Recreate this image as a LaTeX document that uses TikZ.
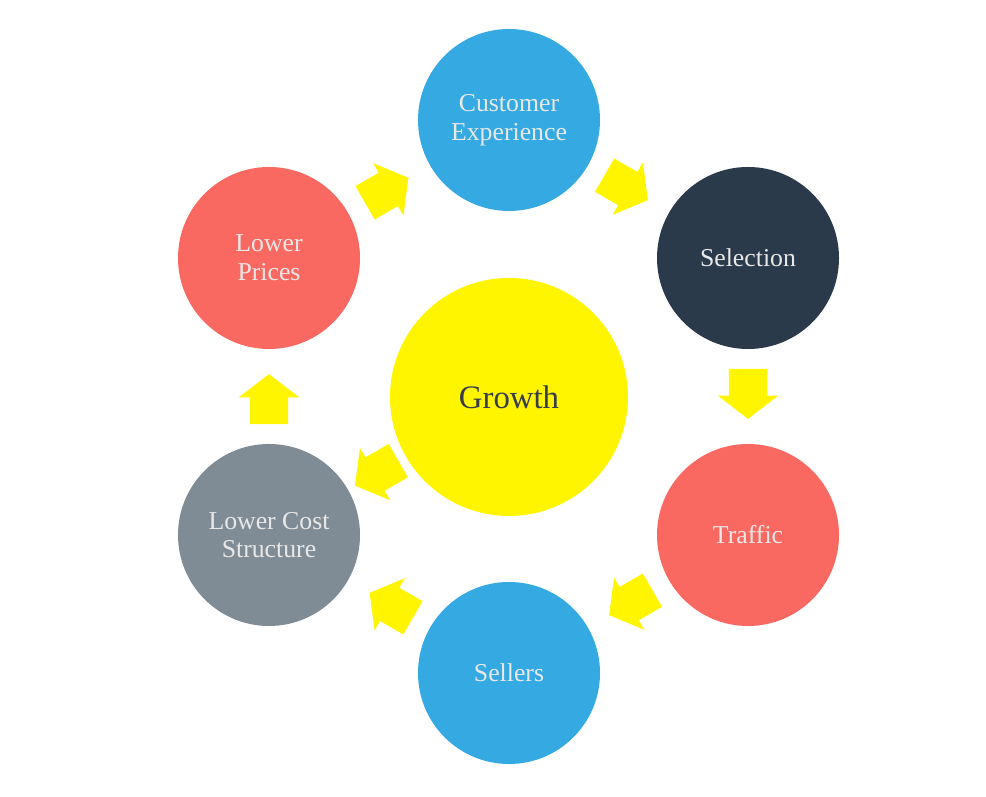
\documentclass[tikz,border=0pt]{standalone}
\usepackage{fontspec}
\setmainfont{Liberation Serif}
\usetikzlibrary{calc,shapes.arrows}
\definecolor{skyblue}{HTML}{35A9E1}
\definecolor{navy}{HTML}{2A3A4A}
\definecolor{salmon}{HTML}{FA6862}
\definecolor{slate}{HTML}{7F8C95}
\definecolor{sun}{HTML}{FFF500}
\definecolor{ink}{HTML}{383C48}
\tikzset{
  stage/.style={circle, draw=none, minimum size=5.46cm, inner sep=0pt, align=center,
    text=white!91!black, font=\fontsize{22}{24.5}\selectfont},
  hub/.style={stage, fill=sun, minimum size=7.14cm, text=ink, font=\fontsize{28}{32}\selectfont},
  flow/.style={single arrow, fill=sun, draw=none, minimum height=1.5cm, minimum width=1.8cm,
    inner xsep=0pt, inner ysep=0.57cm, single arrow head extend=0.33cm, single arrow tip angle=105}
}
\begin{document}
\begin{tikzpicture}[x=0.03cm, y=0.03cm]
  \useasboundingbox (0,0) rectangle (986,797);

  \node[hub] (growth) at (509,400) {Growth};
  \node[stage, fill=skyblue] (ce) at (509,677) {Customer\\Experience};
  \node[stage, fill=navy] (sel) at (748,539) {Selection};
  \node[stage, fill=salmon] (traffic) at (748,262) {Traffic};
  \node[stage, fill=skyblue] (sellers) at (509,124) {Sellers};
  \node[stage, fill=slate] (lcs) at (269,262) {Lower Cost\\Structure};
  \node[stage, fill=salmon] (lp) at (269,539) {Lower\\Prices};

  % the loop
  \foreach \a/\b/\ang in {lp/ce/30, ce/sel/-30, sel/traffic/-90, traffic/sellers/-150, sellers/lcs/150, lcs/lp/90}
    \node[flow, rotate=\ang] (\a-\b) at ($($(\a)!0.5!(\b)$)!0.3cm!(\a)$) {};
  \node[flow, rotate=-150] (growth-lcs) at ($(growth)!0.525!(lcs)$) {};
\end{tikzpicture}
\end{document}
